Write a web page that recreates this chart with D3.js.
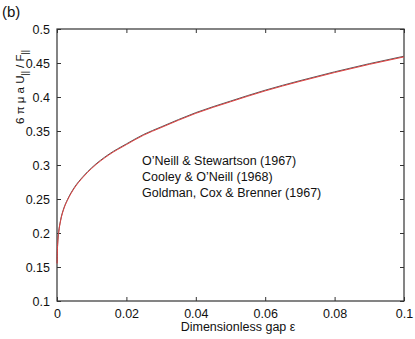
<!DOCTYPE html>
<html>
<head>
<meta charset="utf-8">
<script src="https://cdn.jsdelivr.net/npm/d3@7"></script>
<style>
  html, body { margin: 0; padding: 0; background: #fff; }
  svg text { font-family: "Liberation Sans", Arial, sans-serif; fill: #111; }
</style>
</head>
<body>
<div id="chart"></div>
<script>
// Gap values (epsilon) and the mobility ratio
const gap = [0.00003, 0.0001, 0.0002, 0.0005, 0.001, 0.002, 0.003, 0.005, 0.0075, 0.01,
             0.015, 0.02, 0.025, 0.03, 0.04, 0.05, 0.06, 0.07, 0.08, 0.09, 0.1];
const oneillStewartson = [0.155, 0.172, 0.184, 0.201, 0.217, 0.236, 0.248, 0.266, 0.282, 0.295,
                          0.315, 0.330, 0.344, 0.355, 0.376, 0.393, 0.409, 0.423, 0.436, 0.448, 0.459];
const cooleyOneill = [0.156, 0.173, 0.185, 0.202, 0.218, 0.237, 0.249, 0.267, 0.283, 0.296,
                      0.316, 0.331, 0.345, 0.356, 0.377, 0.394, 0.410, 0.424, 0.437, 0.449, 0.460];
const xTicks = [0, 0.02, 0.04, 0.06, 0.08, 0.1];
const yTicks = [0.1, 0.15, 0.2, 0.25, 0.3, 0.35, 0.4, 0.45, 0.5];
const legendLabels = ["O\u2019Neill & Stewartson (1967)", "Cooley & O\u2019Neill (1968)", "Goldman, Cox & Brenner (1967)"];

const W = 415, H = 339;
const margin = { top: 29, right: 11, bottom: 38, left: 57 };
const width = W - margin.left - margin.right;
const height = H - margin.top - margin.bottom;

const svg = d3.select('#chart').append('svg')
    .attr('width', W)
    .attr('height', H);

const g = svg.append('g')
    .attr('transform', `translate(${margin.left},${margin.top})`);

const x = d3.scaleLinear().domain([0, 0.1]).range([0, width]);
const y = d3.scaleLinear().domain([0.1, 0.5]).range([height, 0]);

const fmt = d => d === 0 ? '0' : String(+d.toFixed(2));

// axes with inward ticks on all four sides (matlab style)
const axStyle = sel => {
    sel.select('.domain').remove();
    sel.selectAll('line').attr('stroke', '#333');
    sel.selectAll('text').attr('font-size', 12.5);
};

g.append('g').attr('transform', `translate(0,${height})`)
    .call(d3.axisBottom(x).tickValues(xTicks).tickSize(-4).tickPadding(8).tickFormat(fmt))
    .call(axStyle);
g.append('g')
    .call(d3.axisTop(x).tickValues(xTicks).tickSize(-4).tickFormat(''))
    .call(axStyle);
g.append('g')
    .call(d3.axisLeft(y).tickValues(yTicks).tickSize(-4).tickPadding(7).tickFormat(fmt))
    .call(axStyle);
g.append('g').attr('transform', `translate(${width},0)`)
    .call(d3.axisRight(y).tickValues(yTicks).tickSize(-4).tickFormat(''))
    .call(axStyle);

g.append('rect')
    .attr('width', width).attr('height', height)
    .attr('fill', 'none').attr('stroke', '#333').attr('stroke-width', 1.2);

// curves
const line = vals => d3.line()
    .x((d, i) => x(gap[i]))
    .y(d => y(d))
    .curve(d3.curveMonotoneX)(vals);

g.append('path')
    .attr('d', line(cooleyOneill))
    .attr('fill', 'none').attr('stroke', '#555').attr('stroke-width', 1);
g.append('path')
    .attr('d', line(oneillStewartson))
    .attr('fill', 'none').attr('stroke', '#e04040').attr('stroke-width', 1);

// legend text (no markers)
g.selectAll('.leg')
    .data(legendLabels)
    .enter().append('text')
    .attr('x', 85)
    .attr('y', (d, i) => 136 + i * 16)
    .attr('font-size', 12.5)
    .text(d => d);

// axis labels
svg.append('text')
    .attr('x', 238)
    .attr('y', 331)
    .attr('text-anchor', 'middle')
    .attr('font-size', 12.5)
    .text('Dimensionless gap \u03b5');

const yl = svg.append('text')
    .attr('transform', 'translate(24,87) rotate(-90)')
    .attr('text-anchor', 'middle')
    .attr('font-size', 11.5);
yl.append('tspan').text('6 \u03c0 \u03bc a U');
yl.append('tspan').attr('dy', 4).attr('font-size', 8.5).text('||');
yl.append('tspan').attr('dy', -4).text(' / F');
yl.append('tspan').attr('dy', 4).attr('font-size', 8.5).text('||');

svg.append('text')
    .attr('x', 2).attr('y', 17)
    .attr('font-size', 15)
    .text('(b)');
</script>
</body>
</html>
